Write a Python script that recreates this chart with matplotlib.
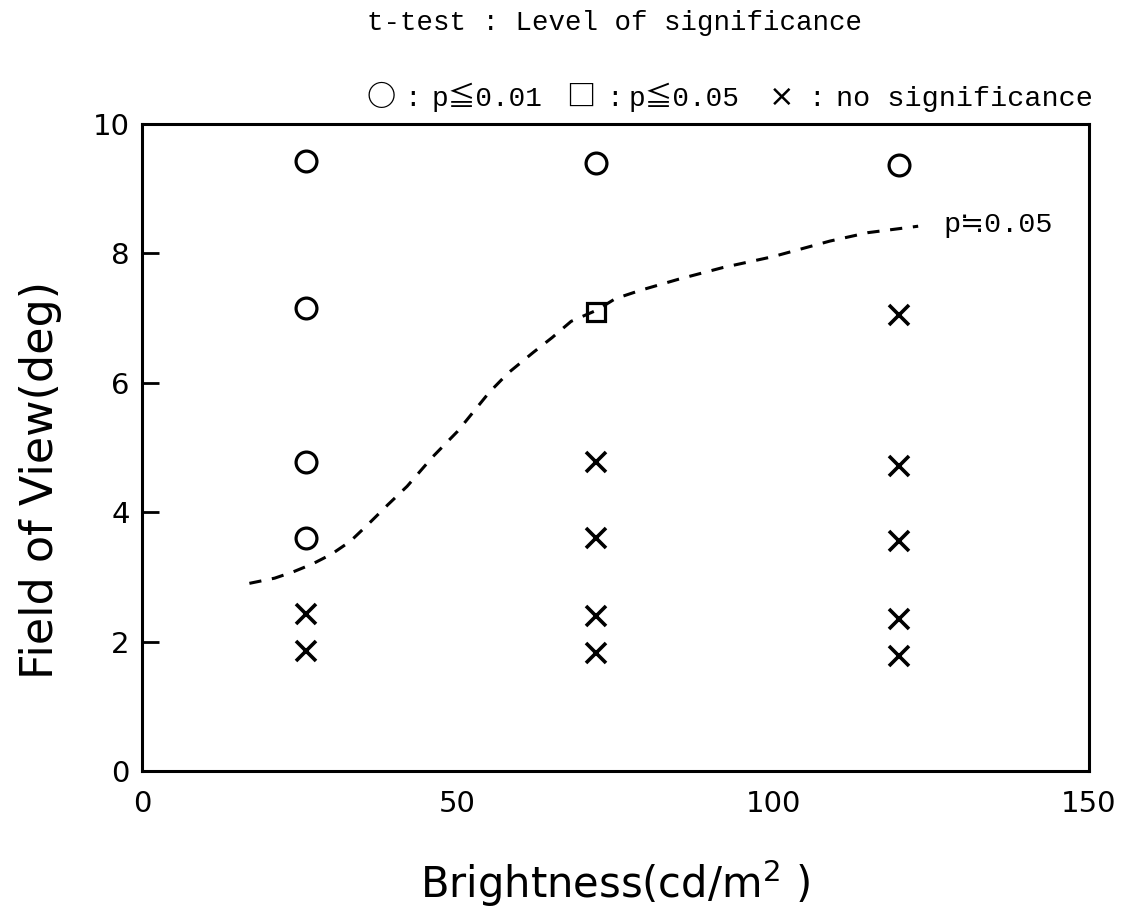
import numpy as np
import matplotlib
matplotlib.use("Agg")
import matplotlib.pyplot as plt

# brightness levels (cd/m2) and fields of view (deg)
bright = [26, 72, 120]
fov_col1 = [9.43, 7.15, 4.78, 3.60, 2.42, 1.85]
fov_col2 = [9.40, 7.10, 4.77, 3.60, 2.40, 1.82]
fov_col3 = [9.37, 7.05, 4.72, 3.55, 2.35, 1.77]
# significance code per point: o = p<=0.01, s = p<=0.05, x = none
sig_col1 = ["o", "o", "o", "o", "x", "x"]
sig_col2 = ["o", "s", "x", "x", "x", "x"]
sig_col3 = ["o", "x", "x", "x", "x", "x"]

# p = 0.05 boundary (dashed curve)
curve_x = [17, 21, 24, 27, 30, 33, 36, 39, 42, 46, 50, 55, 58, 62, 65, 68, 72,
           75, 79, 85, 92, 100, 109, 115, 119, 123]
curve_y = [2.90, 2.98, 3.08, 3.20, 3.35, 3.55, 3.83, 4.12, 4.40, 4.85, 5.25,
           5.85, 6.15, 6.47, 6.70, 6.95, 7.12, 7.30, 7.43, 7.60, 7.78, 7.95,
           8.19, 8.32, 8.37, 8.42]

mono = ["Liberation Mono", "Noto Sans CJK JP", "DejaVu Sans"]
cjk = ["Noto Sans CJK JP", "DejaVu Sans"]

W, H = 1128, 911
fig = plt.figure(figsize=(W / 100, H / 100), dpi=100)
ax = fig.add_axes([0.126, 0.1537, 0.839, 0.7102])

styles = {"o": dict(marker="o", ms=15, mfc="none", mec="black", mew=2.3),
          "s": dict(marker="s", ms=13, mfc="none", mec="black", mew=2.3),
          "x": dict(marker="x", ms=14, mec="black", mew=2.6)}

for xb, ys, codes in zip(bright, [fov_col1, fov_col2, fov_col3],
                         [sig_col1, sig_col2, sig_col3]):
    for y, c in zip(ys, codes):
        ax.plot([xb], [y], linestyle="none", **styles[c])

ax.plot(curve_x, curve_y, color="black", lw=2.2, linestyle=(0, (4, 3.5)))
ax.text(127, 8.44, "p≒0.05", fontsize=20.5, family=mono, va="center", ha="left")

ax.set_xlim(0, 150)
ax.set_ylim(0, 10)
ax.set_xticks([0, 50, 100, 150])
ax.set_yticks([0, 2, 4, 6, 8, 10])
ax.tick_params(axis="x", length=0, pad=14, labelsize=21)
ax.tick_params(axis="y", direction="in", length=12, width=2, pad=9, labelsize=21)
for s in ax.spines.values():
    s.set_linewidth(2.2)

ax.set_xlabel("Brightness(cd/m$^2$ )", fontsize=30, labelpad=28)
ax.set_ylabel("Field of View(deg)", fontsize=32)
ax.yaxis.set_label_coords(-0.085, 0.45)

fig.text(367 / W, 1 - 30 / H, "t-test : Level of significance", fontsize=19.8,
         family=mono, ha="left", va="baseline")

# legend line, drawn piece by piece on one baseline
ly = 1 - 106 / H
fig.text(367 / W, ly, "○", fontsize=21, family=cjk, weight="bold", ha="left", va="baseline")
fig.text(413 / W, ly, ":", fontsize=20, family=mono, ha="center", va="baseline")
fig.text(432 / W, ly, "p≦0.01", fontsize=20, family=mono, ha="left", va="baseline")
fig.text(566 / W, ly, "□", fontsize=21, family=cjk, weight="bold", ha="left", va="baseline")
fig.text(615 / W, ly, ":", fontsize=20, family=mono, ha="center", va="baseline")
fig.text(629 / W, ly, "p≦0.05", fontsize=20, family=mono, ha="left", va="baseline")
fig.text(782 / W, ly, "×", fontsize=22, family=["DejaVu Sans"], ha="center", va="baseline")
fig.text(817 / W, ly, ":", fontsize=20, family=mono, ha="center", va="baseline")
fig.text(836 / W, ly, "no significance", fontsize=20.5, family=mono,
         ha="left", va="baseline")

fig.savefig("out.png", dpi=100)
